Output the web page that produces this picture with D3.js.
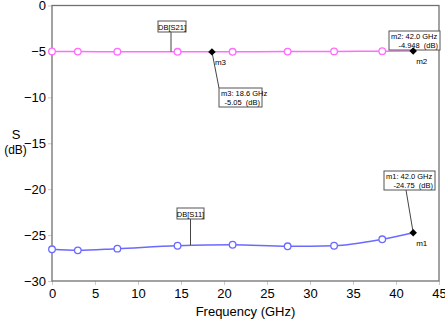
<!DOCTYPE html>
<html>
<head>
<meta charset="utf-8">
<script src="https://cdn.jsdelivr.net/npm/d3@7"></script>
<style>
  body { margin: 0; background: #fff; }
  svg { display: block; font-family: "Liberation Sans", Arial, sans-serif; }
</style>
</head>
<body>
<div id="chart"></div>
<script>
// data
const freq = [0, 3, 7.6, 14.6, 21, 27.4, 32.8, 38.4, 42];
const s21 = [-5.0, -5.02, -5.03, -5.04, -5.04, -5.02, -5.0, -4.97, -4.948];
const s11 = [-26.55, -26.66, -26.48, -26.16, -26.05, -26.22, -26.16, -25.46, -24.75];
const xTicks = [0, 5, 10, 15, 20, 25, 30, 35, 40, 45];
const yTicks = [0, -5, -10, -15, -20, -25, -30];

const markerNames = ["m1", "m2", "m3"];
const markerFreq = [42.0, 42.0, 18.6];
const markerVal = [-24.75, -4.948, -5.05];
const markerText = ["-24.75", "-4.948", "-5.05"];

const width = 445, height = 323;
const margin = { top: 5.5, right: 6, bottom: 42, left: 52 };

const svg = d3.select("#chart").append("svg")
  .attr("width", width)
  .attr("height", height);

const x = d3.scaleLinear().domain([0, 45]).range([margin.left, width - margin.right]);
const y = d3.scaleLinear().domain([-30, 0]).range([height - margin.bottom, margin.top]);

// ticks
svg.append("g")
  .attr("transform", `translate(0,${y(-30)})`)
  .call(d3.axisBottom(x).tickValues(xTicks).tickSize(4).tickPadding(4))
  .call(g => g.select(".domain").remove())
  .call(g => g.selectAll("line").attr("stroke", "#ccc"))
  .call(g => g.selectAll("text").attr("font-size", 13).attr("fill", "#000")
    .attr("font-family", "Liberation Sans, Arial, sans-serif"));

svg.append("g")
  .attr("transform", `translate(${x(0)},0)`)
  .call(d3.axisLeft(y).tickValues(yTicks).tickSize(4).tickPadding(2))
  .call(g => g.select(".domain").remove())
  .call(g => g.selectAll("line").attr("stroke", "#ccc"))
  .call(g => g.selectAll("text").attr("font-size", 13).attr("fill", "#000")
    .attr("font-family", "Liberation Sans, Arial, sans-serif"));

// frame
svg.append("rect")
  .attr("x", x(0)).attr("y", y(0))
  .attr("width", x(45) - x(0)).attr("height", y(-30) - y(0))
  .attr("fill", "none").attr("stroke", "#707070").attr("stroke-width", 1.3);

// axis titles
svg.append("text").attr("x", 16).attr("y", 139).attr("text-anchor", "middle")
  .attr("font-size", 13).text("S");
svg.append("text").attr("x", 15.5).attr("y", 154).attr("text-anchor", "middle")
  .attr("font-size", 12).text("(dB)");
svg.append("text").attr("x", (x(0) + x(45)) / 2).attr("y", 316).attr("text-anchor", "middle")
  .attr("font-size", 13).text("Frequency (GHz)");

// traces
const series = [
  { name: "DB[S21]", vals: s21, color: "#ff6cff" },
  { name: "DB[S11]", vals: s11, color: "#6a6aff" }
];

const line = d3.line()
  .x(d => x(d[0]))
  .y(d => y(d[1]))
  .curve(d3.curveMonotoneX);

series.forEach(s => {
  const pts = freq.map((f, i) => [f, s.vals[i]]);
  svg.append("path")
    .attr("d", line(pts))
    .attr("fill", "none")
    .attr("stroke", s.color)
    .attr("stroke-width", 1.5);
  svg.selectAll(null)
    .data(pts.slice(0, -1))
    .join("circle")
    .attr("cx", d => x(d[0]))
    .attr("cy", d => y(d[1]))
    .attr("r", 3.3)
    .attr("fill", "#fff")
    .attr("stroke", s.color)
    .attr("stroke-width", 1.3);
});

// label boxes helper
function box(x0, y0, w, h) {
  svg.append("rect")
    .attr("x", x0).attr("y", y0).attr("width", w).attr("height", h)
    .attr("fill", "#fff").attr("stroke", "#555").attr("stroke-width", 1);
}
function leader(x1, y1, x2, y2) {
  svg.append("line")
    .attr("x1", x1).attr("y1", y1).attr("x2", x2).attr("y2", y2)
    .attr("stroke", "#444").attr("stroke-width", 1);
}

// trace name tags
leader(171, 32, 171, y(-5.03));
box(158, 21, 28, 11);
svg.append("text").attr("x", 172).attr("y", 29.5).attr("text-anchor", "middle")
  .attr("font-size", 7.5).text("DB[S21]");

leader(190.5, 219, 190.5, y(-26.1));
box(177, 208, 27, 11);
svg.append("text").attr("x", 190.5).attr("y", 216.5).attr("text-anchor", "middle")
  .attr("font-size", 7.5).text("DB[S11]");

// markers
const boxes = [
  { bx: 384, by: 171, lx: 406, ly: 190 },   // m1
  { bx: 389, by: 31, lx: 413, ly: 49 },     // m2
  { bx: 219, by: 88, lx: 219, ly: 88 }      // m3
];

markerNames.forEach((m, i) => {
  const mx = x(markerFreq[i]), my = y(markerVal[i]);
  const b = boxes[i];
  leader(mx, my, b.lx, b.ly);
  const bw = m === "m3" ? 43 : 51;
  box(b.bx, b.by, bw, 19);
  svg.append("text").attr("x", b.bx + 2).attr("y", b.by + 8)
    .attr("font-size", 7.5).text(`${m}: ${markerFreq[i].toFixed(1)} GHz`);
  svg.append("text").attr("x", b.bx + bw - 2).attr("y", b.by + 17)
    .attr("text-anchor", "end").attr("font-size", 7.5)
    .attr("xml:space", "preserve").text(`${markerText[i]}  (dB)`);
  svg.append("path")
    .attr("d", d3.symbol(d3.symbolSquare, 28)())
    .attr("transform", `translate(${mx},${my}) rotate(45)`)
    .attr("fill", "#000");
  svg.append("text").attr("x", mx + 3).attr("y", my + 13)
    .attr("font-size", 8).text(m);
});
</script>
</body>
</html>
